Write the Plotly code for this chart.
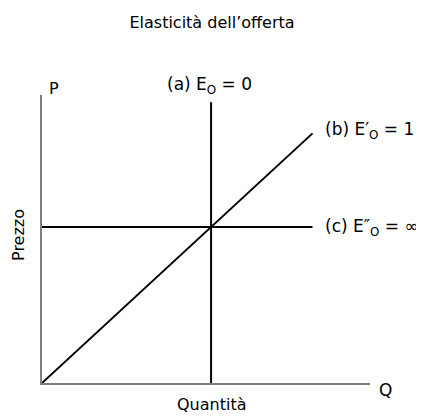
import plotly.graph_objects as go

# Data (in abstract Q/P units)
q_a = [5, 5]          # perfectly inelastic supply
p_a = [0, 9]
q_b = [0, 8]          # unit-elastic supply
p_b = [0, 8]
q_c = [0, 8]          # perfectly elastic supply
p_c = [5, 5]

labels = {
    "a": "(a) E<sub>O</sub> = 0",
    "b": "(b) E′<sub>O</sub> = 1",
    "c": "(c) E″<sub>O</sub> = ∞",
}

FONT = "DejaVu Sans"
line_style = dict(color="black", width=2)

fig = go.Figure()
for qs, ps in [(q_a, p_a), (q_b, p_b), (q_c, p_c)]:
    fig.add_trace(go.Scatter(x=qs, y=ps, mode="lines", line=line_style,
                             hoverinfo="skip", showlegend=False))

# The page body has an 8px margin, so the figure is sized 416x408
W, H = 416, 408
fig.update_layout(
    width=W, height=H,
    margin=dict(l=34, r=54, t=87, b=33, autoexpand=False),
    paper_bgcolor="white", plot_bgcolor="white",
    font=dict(family=FONT, size=16, color="black"),
    title=dict(text="Elasticità dell’offerta", x=(212 - 8) / W, xanchor="center",
               y=1 - 14 / H, yanchor="middle",
               font=dict(family=FONT, size=16, color="black")),
    xaxis=dict(range=[0, 9.7], showgrid=False, zeroline=False,
               showticklabels=False, ticks="", showline=True,
               linecolor="#808080", linewidth=1.5, fixedrange=True),
    yaxis=dict(range=[0, 9.23], showgrid=False, zeroline=False,
               showticklabels=False, ticks="", showline=True,
               linecolor="#808080", linewidth=1.5, fixedrange=True),
)

ann_font = dict(family=FONT, size=16, color="black")
lab_font = dict(family=FONT, size=17, color="black")
# Line labels
fig.add_annotation(x=5, y=9, xref="x", yref="y", text=labels["a"],
                   showarrow=False, xanchor="center", yanchor="middle",
                   xshift=-2, yshift=17, font=lab_font)
fig.add_annotation(x=8, y=8, xref="x", yref="y", text=labels["b"],
                   showarrow=False, xanchor="left", yanchor="middle",
                   xshift=10, yshift=3, font=lab_font)
fig.add_annotation(x=8, y=5, xref="x", yref="y", text=labels["c"],
                   showarrow=False, xanchor="left", yanchor="middle",
                   xshift=10, yshift=-1, font=lab_font)
# Axis letters
fig.add_annotation(x=0, y=9.23, xref="x", yref="y", text="P",
                   showarrow=False, xanchor="left", yanchor="middle",
                   xshift=5, yshift=7, font=ann_font)
fig.add_annotation(x=9.7, y=0, xref="x", yref="y", text="Q",
                   showarrow=False, xanchor="left", yanchor="middle",
                   xshift=7, yshift=-7, font=lab_font)
# Axis titles
fig.add_annotation(x=5, y=0, xref="x", yref="y", text="Quantità",
                   showarrow=False, xanchor="center", yanchor="middle",
                   yshift=-21, font=ann_font)
fig.add_annotation(x=0, y=5, xref="x", yref="y", text="Prezzo",
                   showarrow=False, xanchor="center", yanchor="middle",
                   textangle=-90, xshift=-23, yshift=-8, font=ann_font)

fig.write_html("out.html")
